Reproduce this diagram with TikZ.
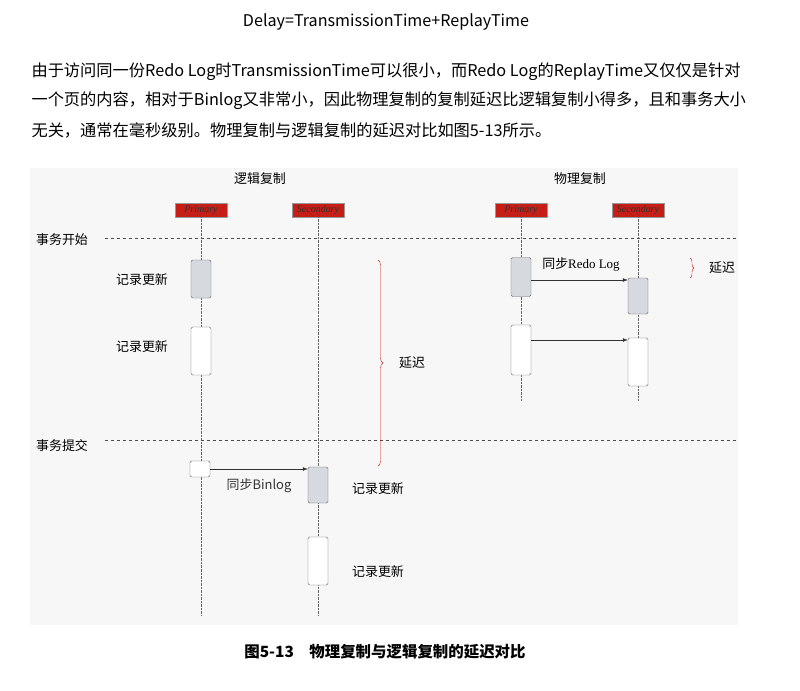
\documentclass[tikz,border=0pt]{standalone}
\usepackage{fontspec}
\setmainfont{Noto Sans CJK SC}
\newfontfamily\serifcjk{Liberation Serif}
\usetikzlibrary{decorations.pathreplacing,arrows.meta}
\definecolor{actgray}{RGB}{214,218,224}
\definecolor{hdrred}{RGB}{196,30,22}
\tikzset{
  act/.style={draw=black!60,rounded corners=1.5pt,minimum width=20bp,inner sep=0pt},
  hdr/.style={fill=hdrred,draw=black!40,minimum width=52bp,minimum height=14bp,inner sep=0pt,font=\serifcjk\itshape\fontsize{10}{10}\selectfont,text=black!80},
  life/.style={densely dotted,black!60},
  sep/.style={dashed,black!70},
  lbl/.style={font=\fontsize{13}{13}\selectfont},
  msg/.style={-{Latex[length=5bp]},black!80},
  para/.style={anchor=west,font=\fontsize{16.3}{16.3}\selectfont}
}
\begin{document}
\begin{tikzpicture}[x=1bp,y=-1bp]
  \useasboundingbox (0,0) rectangle (800,691);
  \fill[black!3] (30,168) rectangle (738,625);
  \node[font=\fontsize{16.2}{16.2}\selectfont] (title) at (386,22) {Delay=TransmissionTime+ReplayTime};
  \node[para] (p1) at (28,72) {由于访问同一份Redo Log时TransmissionTime可以很小，而Redo Log的ReplayTime又仅仅是针对};
  \node[para] (p2) at (28,101) {一个页的内容，相对于Binlog又非常小，因此物理复制的复制延迟比逻辑复制小得多，且和事务大小};
  \node[para] (p3) at (28,130) {无关，通常在毫秒级别。物理复制与逻辑复制的延迟对比如图5-13所示。};
  % headers
  \node[lbl] (tl) at (260,179) {逻辑复制};
  \node[lbl] (tp) at (580,179) {物理复制};
  \node[hdr] (lp) at (201,210) {Primary};
  \node[hdr] (ls) at (318,210) {Secondary};
  \node[hdr] (pp) at (521,210) {Primary};
  \node[hdr] (ps) at (638,210) {Secondary};
  \coordinate (lpe) at (201,615);
  \coordinate (lse) at (318,615);
  \coordinate (ppe) at (521,400);
  \coordinate (pse) at (638,400);
  \draw[life] (lp) -- (lpe);
  \draw[life] (ls) -- (lse);
  \draw[life] (pp) -- (ppe);
  \draw[life] (ps) -- (pse);
  % phases
  \draw[sep] (105,238) -- (738,238);
  \draw[sep] (105,440) -- (738,440);
  \node[lbl] (start) at (62,240) {事务开始};
  \node[lbl] (commit) at (62,446) {事务提交};
  % logical
  \node[act,fill=actgray,minimum height=38bp] (la1) at (201,279) {};
  \node[act,fill=white,minimum height=48bp] (la2) at (201,351) {};
  \node[act,fill=white,minimum height=16bp] (la3) at (200,469) {};
  \node[act,fill=actgray,minimum height=36bp] (lb1) at (318,485) {};
  \node[act,fill=white,minimum height=48bp] (lb2) at (318,561) {};
  \node[lbl] (u1) at (142,280) {记录更新};
  \node[lbl] (u2) at (142,347) {记录更新};
  \node[lbl] (u3) at (378,489) {记录更新};
  \node[lbl] (u4) at (378,572) {记录更新};
  \draw[msg] (la3.east) -- (lb1.west |- la3.east) node[midway,below=6bp,lbl] {同步Binlog};
  \draw[hdrred,decorate,decoration={brace,amplitude=5bp}] (378,260) -- (378,466);
  \node[lbl] (d1) at (412,363) {延迟};
  % physical
  \node[act,fill=actgray,minimum height=39bp] (pa1) at (521,277) {};
  \node[act,fill=white,minimum height=50bp] (pa2) at (521,350) {};
  \node[act,fill=actgray,minimum height=36bp] (pb1) at (638,296) {};
  \node[act,fill=white,minimum height=48bp] (pb2) at (638,362) {};
  \draw[msg] (pa1.east |- 0,280) -- (pb1.west |- 0,280);
  \node[lbl] (redo) at (581,264) {同步{\serifcjk Redo Log}};
  \draw[msg] (pa2.east |- 0,340) -- (pb2.west |- 0,340);
  \draw[hdrred,decorate,decoration={brace,amplitude=4bp}] (690,258) -- (690,278);
  \node[lbl] (d2) at (722,268) {延迟};
  \node[font=\bfseries\fontsize{15.5}{15.5}\selectfont] (cap) at (385,652) {图5-13\quad 物理复制与逻辑复制的延迟对比};
\end{tikzpicture}
\end{document}
